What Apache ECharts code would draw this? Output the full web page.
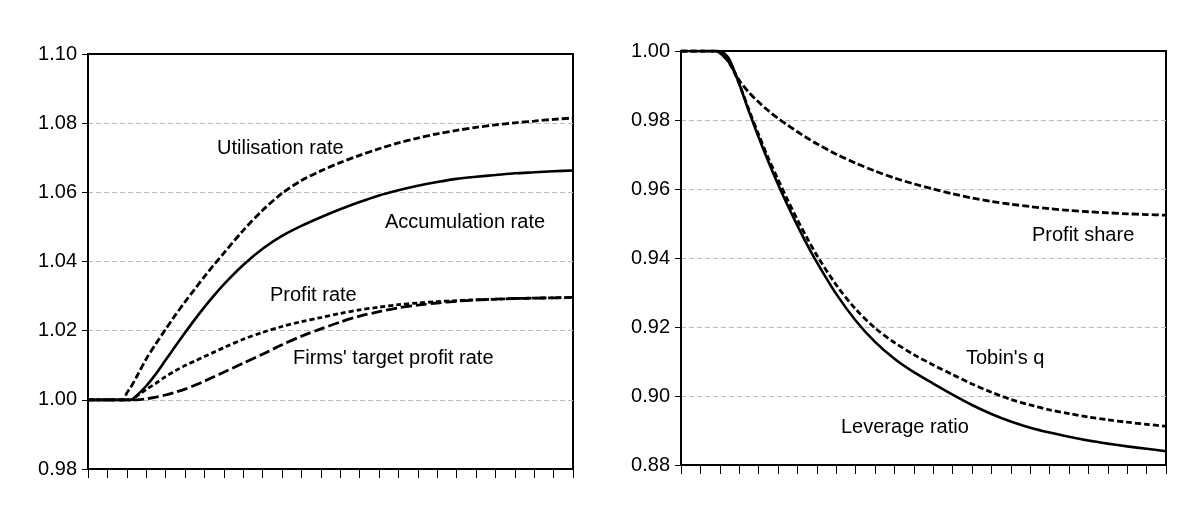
<!DOCTYPE html>
<html>
<head>
<meta charset="utf-8">
<script src="https://cdn.jsdelivr.net/npm/echarts@6/dist/echarts.min.js"></script>
<style>
html,body{margin:0;padding:0;background:#ffffff;}
#chart{width:1203px;height:517px;}
</style>
</head>
<body>
<div id="chart"></div>
<script>
// Periods (x values)
const periods = [0, 10, 18, 20, 22, 25, 30, 35, 40, 45, 50, 55, 60, 65, 70, 80, 90, 100, 110, 120, 130, 140, 150, 160, 170, 180, 190, 200, 210, 220, 230, 240, 250];

// Left panel series
const utilisationRate = [1.000, 1.000, 1.000, 1.002, 1.0036, 1.0066, 1.0118, 1.0162, 1.0204, 1.0245, 1.0283, 1.0320, 1.0356, 1.0391, 1.0424, 1.0490, 1.0548, 1.0597, 1.0634, 1.0662, 1.0686, 1.0707, 1.0726, 1.0743, 1.0757, 1.0769, 1.0779, 1.0788, 1.0795, 1.0801, 1.0806, 1.0811, 1.0815];
const accumulationRate = [1.000, 1.000, 1.000, 1.000, 1.000, 1.0012, 1.0040, 1.0075, 1.0115, 1.0155, 1.0194, 1.0232, 1.0268, 1.0302, 1.0334, 1.0390, 1.0437, 1.0474, 1.0503, 1.0528, 1.0551, 1.0572, 1.0591, 1.0606, 1.0619, 1.0630, 1.0639, 1.0645, 1.0650, 1.0655, 1.0658, 1.0661, 1.0663];
const profitRate = [1.000, 1.000, 1.000, 1.000, 1.000, 1.0010, 1.0030, 1.0048, 1.0067, 1.0084, 1.0099, 1.0112, 1.0125, 1.0138, 1.0151, 1.0175, 1.0195, 1.0212, 1.0226, 1.0238, 1.0250, 1.0260, 1.0268, 1.0275, 1.0280, 1.0284, 1.0287, 1.0289, 1.0291, 1.0293, 1.0294, 1.0295, 1.0296];
const targetProfitRate = [1.000, 1.000, 1.000, 1.000, 1.000, 1.000, 1.0003, 1.0008, 1.0014, 1.0022, 1.0031, 1.0042, 1.0054, 1.0067, 1.0080, 1.0106, 1.0132, 1.0159, 1.0184, 1.0205, 1.0225, 1.0242, 1.0255, 1.0266, 1.0274, 1.0280, 1.0285, 1.0289, 1.0291, 1.0293, 1.0294, 1.0295, 1.0296];

// Right panel series
const profitShare = [1.000, 1.000, 1.000, 0.9995, 0.9985, 0.9965, 0.9915, 0.9880, 0.9852, 0.9827, 0.9805, 0.9785, 0.9766, 0.9748, 0.9731, 0.9701, 0.9675, 0.9652, 0.9632, 0.9615, 0.9600, 0.9586, 0.9574, 0.9564, 0.9556, 0.9549, 0.9543, 0.9538, 0.9534, 0.9531, 0.9528, 0.9526, 0.9524];
const tobinsQ = [1.000, 1.000, 1.000, 0.9995, 0.9985, 0.9965, 0.9905, 0.9830, 0.9758, 0.9690, 0.9628, 0.9568, 0.9511, 0.9458, 0.9408, 0.9322, 0.9252, 0.9197, 0.9155, 0.9120, 0.9090, 0.9062, 0.9035, 0.9011, 0.8990, 0.8974, 0.8960, 0.8949, 0.8939, 0.8931, 0.8924, 0.8918, 0.8912];
const leverageRatio = [1.000, 1.000, 1.000, 1.000, 0.9995, 0.9975, 0.9905, 0.9825, 0.9750, 0.9680, 0.9614, 0.9552, 0.9494, 0.9439, 0.9388, 0.9296, 0.9219, 0.9157, 0.9108, 0.9069, 0.9036, 0.9004, 0.8974, 0.8948, 0.8926, 0.8908, 0.8894, 0.8882, 0.8871, 0.8862, 0.8854, 0.8847, 0.8840];

// Tick labels
const leftTicks = [0.98, 1.00, 1.02, 1.04, 1.06, 1.08, 1.10];
const rightTicks = [0.88, 0.90, 0.92, 0.94, 0.96, 0.98, 1.00];

// Annotations
const labels = [
  {text: 'Utilisation rate', x: 217, y: 148},
  {text: 'Accumulation rate', x: 385, y: 222},
  {text: 'Profit rate', x: 270, y: 295},
  {text: "Firms' target profit rate", x: 293, y: 358},
  {text: 'Profit share', x: 1032, y: 235},
  {text: "Tobin's q", x: 966, y: 358},
  {text: 'Leverage ratio', x: 841, y: 427}
];

const FONT = "'Liberation Sans', Arial, sans-serif";
const pairs = (arr) => periods.map((p, i) => [p, arr[i]]);

function xAxisCfg(gi) {
  return {
    type: 'value', gridIndex: gi, min: 0, max: 250, interval: 10,
    axisLine: {show: true, lineStyle: {color: '#000', width: 2}},
    axisTick: {show: true, length: 9, lineStyle: {color: '#000', width: 1}},
    axisLabel: {show: false},
    splitLine: {show: false}
  };
}
function topAxisCfg(gi) {
  return {
    type: 'value', gridIndex: gi, position: 'top', min: 0, max: 250,
    axisLine: {show: true, lineStyle: {color: '#000', width: 2}},
    axisTick: {show: false}, axisLabel: {show: false}, splitLine: {show: false}
  };
}
function yAxisCfg(gi, ticks) {
  return {
    type: 'value', gridIndex: gi, min: ticks[0], max: ticks[ticks.length - 1], interval: 0.02,
    axisLine: {show: true, lineStyle: {color: '#000', width: 2}},
    axisTick: {show: true, length: 6, lineStyle: {color: '#000', width: 1}},
    axisLabel: {show: true, fontSize: 20, color: '#000', fontFamily: FONT, margin: 11,
      formatter: (v) => v.toFixed(2)},
    splitLine: {show: true, showMaxLine: false, showMinLine: false,
      lineStyle: {color: '#bdbdbd', width: 1, type: [5, 3]}}
  };
}
function line(name, data, gi, type, width) {
  return {
    name: name, type: 'line', xAxisIndex: gi, yAxisIndex: gi,
    data: pairs(data), showSymbol: false, symbol: 'none',
    smooth: 0.3,
    lineStyle: {color: '#000', width: width, type: type},
    z: 5
  };
}

const chart = echarts.init(document.getElementById('chart'), null, {renderer: 'canvas'});
chart.setOption({
  animation: false,
  backgroundColor: '#ffffff',
  grid: [
    {left: 88, top: 54, width: 485, height: 415, show: true, borderColor: '#000', borderWidth: 2, backgroundColor: '#fff'},
    {left: 681, top: 51, width: 485, height: 414, show: true, borderColor: '#000', borderWidth: 2, backgroundColor: '#fff'}
  ],
  xAxis: [xAxisCfg(0), xAxisCfg(1), topAxisCfg(0), topAxisCfg(1)],
  yAxis: [yAxisCfg(0, leftTicks), yAxisCfg(1, rightTicks)],
  series: [
    line('Utilisation rate', utilisationRate, 0, [7, 3], 2.8),
    line('Accumulation rate', accumulationRate, 0, 'solid', 2.6),
    line('Profit rate', profitRate, 0, [5, 3], 2.8),
    line("Firms' target profit rate", targetProfitRate, 0, [11, 4], 2.8),
    line('Profit share', profitShare, 1, [7, 3], 2.8),
    line("Tobin's q", tobinsQ, 1, [6, 3], 2.8),
    line('Leverage ratio', leverageRatio, 1, 'solid', 2.6)
  ],
  graphic: labels.map(l => ({
    type: 'text', x: l.x, y: l.y, z: 10,
    style: {text: l.text, fill: '#000', font: '20px ' + FONT, textAlign: 'left', textVerticalAlign: 'middle'}
  }))
});
</script>
</body>
</html>
